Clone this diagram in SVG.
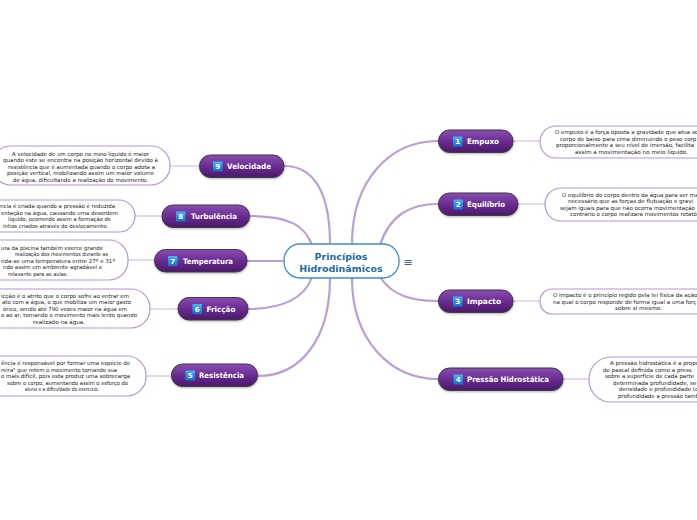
<svg xmlns="http://www.w3.org/2000/svg" width="697" height="520" viewBox="0 0 697 520">
<defs>
<linearGradient id="gNode" x1="0" y1="0" x2="0" y2="1">
<stop offset="0" stop-color="#8a4db3"/>
<stop offset="0.5" stop-color="#6a2c92"/>
<stop offset="1" stop-color="#4a186b"/>
</linearGradient>
<linearGradient id="gBadge" x1="0" y1="0" x2="0" y2="1">
<stop offset="0" stop-color="#45b4f5"/>
<stop offset="1" stop-color="#1570c8"/>
</linearGradient>
<filter id="sh" x="-20%" y="-30%" width="140%" height="170%">
<feDropShadow dx="0.5" dy="1" stdDeviation="0.8" flood-color="#000" flood-opacity="0.3"/>
</filter>
</defs>
<style>
.node rect.b{fill:url(#gNode);stroke:#3d3d3d;stroke-width:1;filter:url(#sh)}
.badge{fill:url(#gBadge)}
.num{font-family:"DejaVu Sans",sans-serif;font-weight:bold;font-size:7px;fill:#fff;text-anchor:middle}
.lbl{font-family:"DejaVu Sans",sans-serif;font-weight:bold;font-size:7.5px;fill:#fff}
.note rect{fill:#fff;stroke:#b596d3;stroke-width:1.2}
.nt{font-family:"DejaVu Sans",sans-serif;font-size:5.5px;fill:#222}
.main{fill:none;stroke:#b99fd7;stroke-width:2.2;stroke-linecap:round}
.thin{fill:none;stroke:#dccfea;stroke-width:1.5}
.ct{font-family:"DejaVu Sans",sans-serif;font-weight:bold;font-size:9.5px;fill:#1d6aa8;text-anchor:middle}
</style>
<rect width="697" height="520" fill="#fff"/>

<g id="connectors">
<path class="main" d="M284,166 C318,166 330,200 330,244"/>
<path class="main" d="M250,216 C290,216 305,226 312,245"/>
<path class="main" d="M247,261 L284,261"/>
<path class="main" d="M312,277 C305,298 282,309 248,309"/>
<path class="main" d="M330,278 C330,340 300,376 258,376"/>
<path class="main" d="M352,244 C352,180 390,141 438,141"/>
<path class="main" d="M380,245 C390,215 410,204 438,204"/>
<path class="main" d="M380,277 C392,295 410,301 438,301"/>
<path class="main" d="M352,278 C352,340 390,379 438,379"/>
<path class="thin" d="M170,166 L200,166"/>
<path class="thin" d="M135,216 L162,216"/>
<path class="thin" d="M128,260 L155,260"/>
<path class="thin" d="M150,309 L178,309"/>
<path class="thin" d="M146,376 L172,376"/>
<path class="thin" d="M513,141 L540,141"/>
<path class="thin" d="M518,204 L545,204"/>
<path class="thin" d="M513,301 L540,301"/>
<path class="thin" d="M563,379 L589,379"/>
</g>

<g id="center">
<rect x="284" y="244" width="115" height="34" rx="16" fill="#fff" stroke="#3b8fd6" stroke-width="1.3"/>
<text class="ct" x="341" y="260">Princípios</text>
<text class="ct" x="341" y="271.5">Hidrodinâmicos</text>
<text x="408" y="265.5" font-family="DejaVu Sans, sans-serif" font-size="11" fill="#4a5a80" text-anchor="middle">≡</text>
</g>

<!-- Right nodes -->
<g id="n1" class="node">
<rect class="b" x="438.5" y="130" width="74.5" height="22.5" rx="11"/>
<rect class="badge" x="453" y="136.5" width="9.5" height="10"/>
<text class="num" x="457.8" y="144.3">1</text>
<text class="lbl" x="467" y="144.3" textLength="32" lengthAdjust="spacingAndGlyphs">Empuxo</text>
</g>
<g id="n2" class="node">
<rect class="b" x="438.5" y="193" width="79.5" height="22.5" rx="11"/>
<rect class="badge" x="453.5" y="199.5" width="9.5" height="10"/>
<text class="num" x="458.3" y="207.3">2</text>
<text class="lbl" x="467" y="207.3" textLength="38" lengthAdjust="spacingAndGlyphs">Equilíbrio</text>
</g>
<g id="n3" class="node">
<rect class="b" x="438.5" y="290" width="74.5" height="22.5" rx="11"/>
<rect class="badge" x="453" y="296.5" width="9.5" height="10"/>
<text class="num" x="457.8" y="304.3">3</text>
<text class="lbl" x="467" y="304.3" textLength="34" lengthAdjust="spacingAndGlyphs">Impacto</text>
</g>
<g id="n4" class="node">
<rect class="b" x="438.5" y="368" width="124.5" height="22.5" rx="11"/>
<rect class="badge" x="453.5" y="374.5" width="9.5" height="10"/>
<text class="num" x="458.3" y="382.3">4</text>
<text class="lbl" x="467" y="382.3" textLength="82" lengthAdjust="spacingAndGlyphs">Pressão Hidrostática</text>
</g>

<!-- Left nodes -->
<g id="n5" class="node">
<rect class="b" x="171.5" y="364" width="86" height="22.5" rx="11"/>
<rect class="badge" x="185.5" y="370.5" width="9.5" height="10"/>
<text class="num" x="190.3" y="378.3">5</text>
<text class="lbl" x="199" y="378.3" textLength="45" lengthAdjust="spacingAndGlyphs">Resistência</text>
</g>
<g id="n6" class="node">
<rect class="b" x="178" y="297.5" width="70" height="22.5" rx="11"/>
<rect class="badge" x="192.5" y="304" width="9.5" height="10"/>
<text class="num" x="197.3" y="311.8">6</text>
<text class="lbl" x="206.5" y="311.8" textLength="29" lengthAdjust="spacingAndGlyphs">Fricção</text>
</g>
<g id="n7" class="node">
<rect class="b" x="154.5" y="249.5" width="92.5" height="22.5" rx="11"/>
<rect class="badge" x="168" y="256" width="9.5" height="10"/>
<text class="num" x="172.8" y="263.8">7</text>
<text class="lbl" x="183" y="263.8" textLength="50" lengthAdjust="spacingAndGlyphs">Temperatura</text>
</g>
<g id="n8" class="node">
<rect class="b" x="162" y="205" width="87.5" height="22.5" rx="11"/>
<rect class="badge" x="176" y="211.5" width="9.5" height="10"/>
<text class="num" x="180.8" y="219.3">8</text>
<text class="lbl" x="191" y="219.3" textLength="46" lengthAdjust="spacingAndGlyphs">Turbulência</text>
</g>
<g id="n9" class="node">
<rect class="b" x="199.5" y="155" width="84.5" height="22.5" rx="11"/>
<rect class="badge" x="213" y="161.5" width="9.5" height="10"/>
<text class="num" x="217.8" y="169.3">9</text>
<text class="lbl" x="227" y="169.3" textLength="44" lengthAdjust="spacingAndGlyphs">Velocidade</text>
</g>

<!-- Notes left -->
<g id="note9" class="note">
<rect x="-8" y="146" width="178" height="39" rx="19"/>
<text class="nt" x="12" y="155.5" textLength="137" lengthAdjust="spacingAndGlyphs">A velocidade de um corpo no meio líquido é maior</text>
<text class="nt" x="3" y="162" textLength="155" lengthAdjust="spacingAndGlyphs">quando este se encontra na posição horizontal devido à</text>
<text class="nt" x="8" y="168.5" textLength="147" lengthAdjust="spacingAndGlyphs">resistência que é aumentada quando o corpo adota a</text>
<text class="nt" x="7" y="175" textLength="147" lengthAdjust="spacingAndGlyphs">posição vertical, mobilizando assim um maior volume</text>
<text class="nt" x="13" y="181.5" textLength="135" lengthAdjust="spacingAndGlyphs">de água, dificultando a realização do movimento.</text>
</g>
<g id="note8" class="note">
<rect x="-40" y="200" width="175" height="32" rx="16"/>
<text class="nt" x="0" y="208.3" textLength="115" lengthAdjust="spacingAndGlyphs">ncia é criada quando a pressão é reduzida</text>
<text class="nt" x="1" y="214.8" textLength="117" lengthAdjust="spacingAndGlyphs">entação na água, causando uma desordem</text>
<text class="nt" x="8" y="221.3" textLength="103" lengthAdjust="spacingAndGlyphs">líquido, ocorrendo assim a formação de</text>
<text class="nt" x="3" y="227.8" textLength="105" lengthAdjust="spacingAndGlyphs">inhos criados através do deslocamento.</text>
</g>
<g id="note7" class="note">
<rect x="-40" y="240" width="168" height="40" rx="19"/>
<text class="nt" x="1" y="249.5" textLength="102" lengthAdjust="spacingAndGlyphs">ura da piscina também exerce grande</text>
<text class="nt" x="15" y="256" textLength="93" lengthAdjust="spacingAndGlyphs">realização dos movimentos durante as</text>
<text class="nt" x="1" y="262.5" textLength="114" lengthAdjust="spacingAndGlyphs">nda-se uma temperatura entre 27º e 31º</text>
<text class="nt" x="3" y="269" textLength="99" lengthAdjust="spacingAndGlyphs">ndo assim um ambiente agradável e</text>
<text class="nt" x="8" y="275.5" textLength="60" lengthAdjust="spacingAndGlyphs">relaxante para as aulas.</text>
</g>
<g id="note6" class="note">
<rect x="-40" y="289" width="190" height="39" rx="19"/>
<text class="nt" x="1" y="297.5" textLength="128" lengthAdjust="spacingAndGlyphs">icção é o atrito que o corpo sofre ao entrar em</text>
<text class="nt" x="2" y="304" textLength="129" lengthAdjust="spacingAndGlyphs">ato com a água, o que mobiliza um maior gasto</text>
<text class="nt" x="3" y="310.5" textLength="124" lengthAdjust="spacingAndGlyphs">órico, sendo até 790 vezes maior na água em</text>
<text class="nt" x="1" y="317" textLength="136" lengthAdjust="spacingAndGlyphs">o ao ar, tornando o movimento mais lento quando</text>
<text class="nt" x="33" y="323.5" textLength="52" lengthAdjust="spacingAndGlyphs">realizado na água.</text>
</g>
<g id="note5" class="note">
<rect x="-40" y="356" width="186" height="40" rx="19"/>
<text class="nt" x="1" y="365" textLength="129" lengthAdjust="spacingAndGlyphs">ência é responsável por formar uma espécie de</text>
<text class="nt" x="1" y="371.5" textLength="116" lengthAdjust="spacingAndGlyphs">reira" que retém o movimento tornando sua</text>
<text class="nt" x="1" y="378" textLength="129" lengthAdjust="spacingAndGlyphs">o mais difícil, pois esta produz uma sobrecarga</text>
<text class="nt" x="7" y="384.5" textLength="121" lengthAdjust="spacingAndGlyphs">sobre o corpo, aumentando assim o esforço do</text>
<text class="nt" x="25" y="391" textLength="74" lengthAdjust="spacingAndGlyphs">aluno e a dificuldade do exercício.</text>
</g>

<!-- Notes right -->
<g id="note1" class="note">
<rect x="540" y="126" width="200" height="32" rx="16"/>
<text class="nt" x="555" y="134.3">O empuxo é a força oposta a gravidade que atua so</text>
<text class="nt" x="560" y="140.8">corpo de baixo para cima diminuindo o peso corp</text>
<text class="nt" x="556" y="147.3">proporcionalmente a seu nível de imersão, facilita</text>
<text class="nt" x="575" y="153.8" textLength="113" lengthAdjust="spacingAndGlyphs">assim a movimentação no meio líquido.</text>
</g>
<g id="note2" class="note">
<rect x="545" y="188" width="200" height="33" rx="16"/>
<text class="nt" x="562" y="196.8">O equilíbrio do corpo dentro da água para ser ma</text>
<text class="nt" x="568" y="203.3">necessário que as forças de flutuação e gravi</text>
<text class="nt" x="560" y="209.8">sejam iguais para que não ocorra movimentação</text>
<text class="nt" x="570" y="216.3">contrário o corpo realizará movimentos rotató</text>
</g>
<g id="note3" class="note">
<rect x="540" y="289" width="200" height="25" rx="12"/>
<text class="nt" x="553" y="297">O impacto é o princípio regido pela lei física da ação</text>
<text class="nt" x="553" y="303.5">na qual o corpo responde de forma igual a uma forç</text>
<text class="nt" x="615" y="310" textLength="47" lengthAdjust="spacingAndGlyphs">sobre si mesmo.</text>
</g>
<g id="note4" class="note">
<rect x="589" y="357" width="160" height="45" rx="22"/>
<text class="nt" x="610" y="365.3">A pressão hidrostática é a propo</text>
<text class="nt" x="603" y="371.8">de pascal definida como a press</text>
<text class="nt" x="605" y="378.3">sobre a superfície de cada parte</text>
<text class="nt" x="613" y="384.8">determinada profundidade, se</text>
<text class="nt" x="619" y="391.3">densidade e profundidade (c</text>
<text class="nt" x="618" y="397.8">profundidade a pressão tamb</text>
</g>
</svg>
